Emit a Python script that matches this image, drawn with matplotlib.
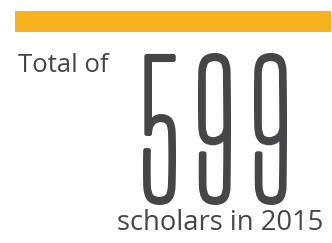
import matplotlib
matplotlib.use("Agg")
import matplotlib.pyplot as plt
import matplotlib.patheffects as pe
from matplotlib.transforms import Affine2D
from matplotlib.textpath import TextPath
from matplotlib.font_manager import FontProperties

# data
total = 599
year = 2015
label_top = "Total of"
label_bottom = f"scholars in {year}"

GOLD = "#F7B21D"
INK = "#464648"


class SqueezeStroke(pe.Stroke):
    """squeeze the text path horizontally, then fill + stroke it"""
    def __init__(self, sx, **kw):
        super().__init__(**kw)
        self.sx = sx

    def draw_path(self, renderer, gc, tpath, affine, rgbFace=None):
        super().draw_path(renderer, gc, tpath,
                          Affine2D().scale(self.sx, 1) + affine, rgbFace)


fig = plt.figure(figsize=(3.32, 2.43), dpi=100)

# progress bar on top
ax_bar = fig.add_axes([15/332, 1 - 32/243, 316/332, 21/243])
ax_bar.barh([0], [total], height=1.0, color=GOLD, edgecolor="none")
ax_bar.set_xlim(0, total)
ax_bar.set_ylim(-0.5, 0.5)
ax_bar.axis("off")

# text layer, 1 unit = 1 px, y going down
ax = fig.add_axes([0, 0, 1, 1])
ax.set_xlim(0, 332)
ax.set_ylim(243, 0)
ax.axis("off")

ax.text(18, 72, label_top, fontsize=18.5, family="Open Sans",
        color=INK, ha="left", va="baseline")
ax.text(117, 230, label_bottom, fontsize=19.7, family="Open Sans",
        color=INK, ha="left", va="baseline")

# big condensed digits
fp = FontProperties(family=["Big Shoulders Display", "Roboto"], weight=100)
lw = 4.5                       # stroke in px
H, W = 152, 33                 # digit box in px
bottom = 205
lefts = [143, 198, 254]

ref = TextPath((0, 0), "9", size=1, prop=fp).get_extents()
em = (H - lw) / ref.height
sx = (W - lw) / (ref.width * em)

for ch, left in zip(str(total), lefts):
    ext = TextPath((0, 0), ch, size=1, prop=fp).get_extents()
    x0 = left + lw / 2 - ext.x0 * em * sx
    y0 = bottom + ext.y0 * em - lw / 2
    ax.text(x0, y0, ch, fontproperties=fp, fontsize=em * 0.72,
            color=INK, ha="left", va="baseline",
            path_effects=[SqueezeStroke(sx, linewidth=lw * 0.72,
                                        foreground=INK)])

fig.savefig("out.png", dpi=100)
